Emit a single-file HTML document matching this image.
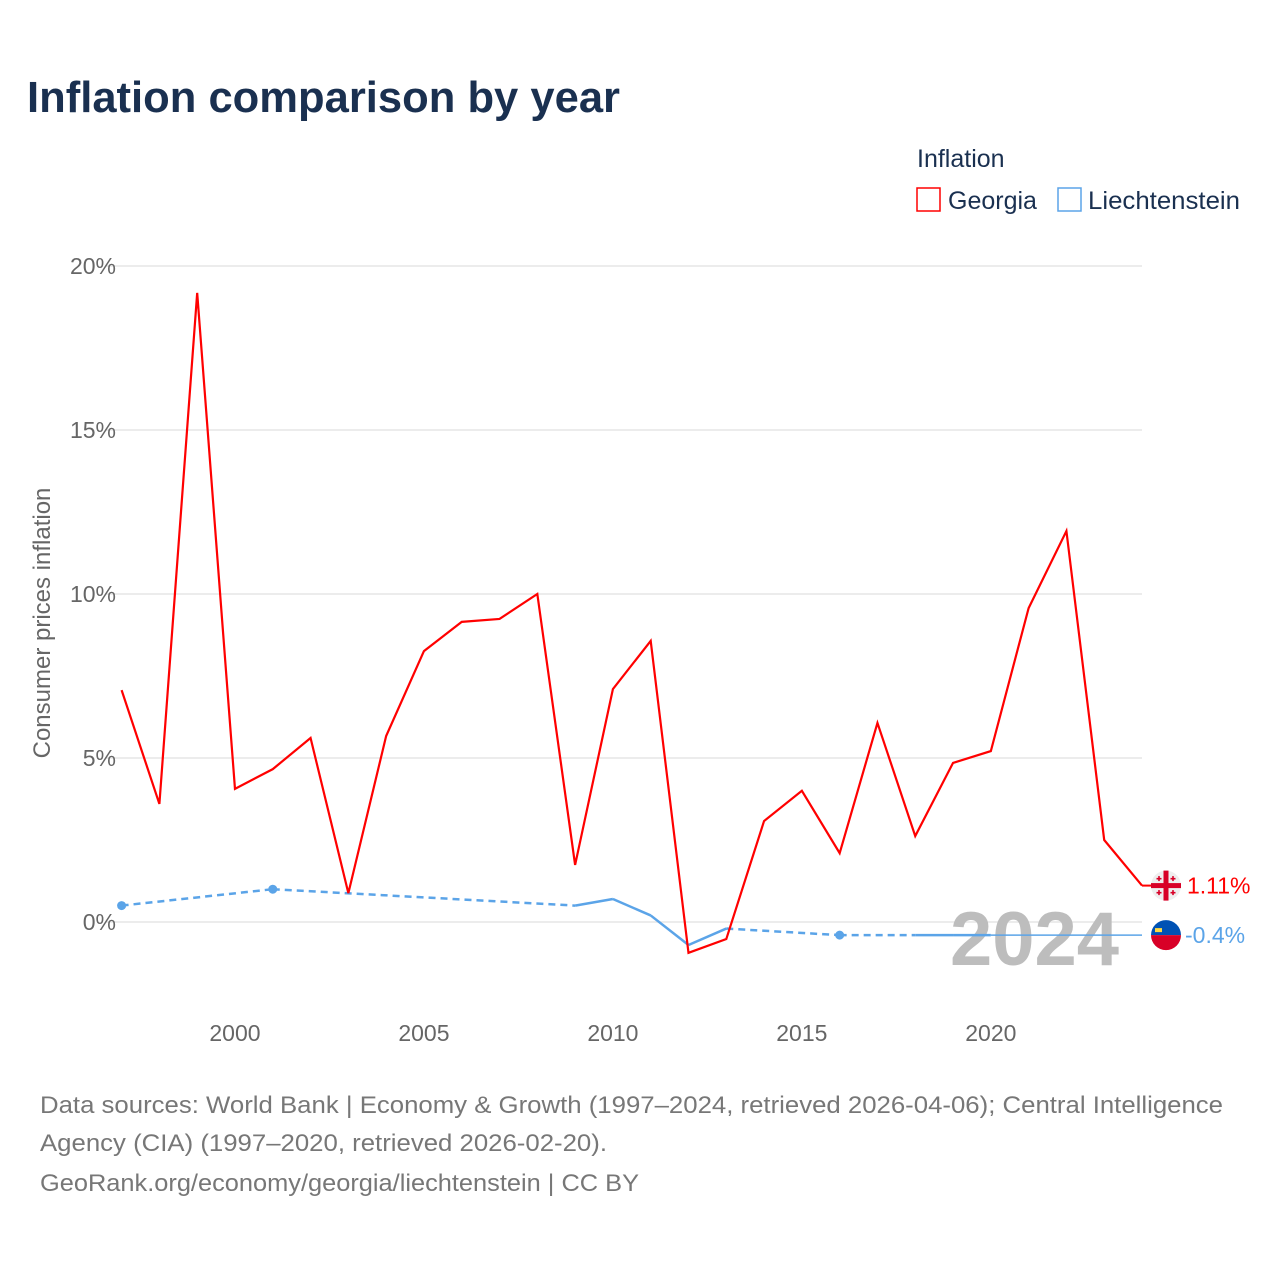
<!DOCTYPE html>
<html><head><meta charset="utf-8"><style>
body{margin:0;background:#fff;width:1280px;height:1280px;overflow:hidden;font-family:"Liberation Sans",sans-serif}
</style></head><body>
<svg width="1280" height="1280" xmlns="http://www.w3.org/2000/svg">
<rect width="1280" height="1280" fill="#fff"/>
<text x="27" y="112" font-size="44" font-weight="bold" fill="#1a3050" textLength="593" lengthAdjust="spacingAndGlyphs">Inflation comparison by year</text>
<text x="917" y="167" font-size="25" fill="#1a3050">Inflation</text>
<g><rect x="917" y="188" width="23" height="23" fill="none" stroke="#f00" stroke-width="1.5"/><text x="948" y="209" font-size="25" fill="#1a3050">Georgia</text></g>
<g><rect x="1058" y="188" width="23" height="23" fill="none" stroke="#5ba4e8" stroke-width="1.5"/><text x="1088" y="209" font-size="25" fill="#1a3050" textLength="152" lengthAdjust="spacingAndGlyphs">Liechtenstein</text></g>
<g id="grid"></g>
<text x="950" y="965" font-size="76" font-weight="bold" fill="#bdbdbd">2024</text>
<g id="plot"></g>
<text transform="translate(50,623) rotate(-90)" text-anchor="middle" font-size="24" fill="#666">Consumer prices inflation</text>
<text x="40" y="1113" font-size="24" fill="#777" textLength="1183" lengthAdjust="spacingAndGlyphs">Data sources: World Bank | Economy &amp; Growth (1997–2024, retrieved 2026-04-06); Central Intelligence</text>
<text x="40" y="1151" font-size="24" fill="#777" textLength="567" lengthAdjust="spacingAndGlyphs">Agency (CIA) (1997–2020, retrieved 2026-02-20).</text>
<text x="40" y="1191" font-size="24" fill="#777" textLength="599" lengthAdjust="spacingAndGlyphs">GeoRank.org/economy/georgia/liechtenstein | CC BY</text>
</svg>
<script>
const geoYears=[1997,1998,1999,2000,2001,2002,2003,2004,2005,2006,2007,2008,2009,2010,2011,2012,2013,2014,2015,2016,2017,2018,2019,2020,2021,2022,2023,2024];
const geoValues=[7.07,3.6,19.18,4.06,4.66,5.61,0.88,5.67,8.26,9.15,9.24,10.0,1.74,7.1,8.57,-0.94,-0.52,3.08,4.0,2.1,6.07,2.62,4.85,5.21,9.57,11.92,2.5,1.11];
const lieYears=[1997,2001,2009,2010,2011,2012,2013,2016,2018,2019,2020];
const lieValues=[0.5,1.0,0.5,0.7,0.2,-0.7,-0.2,-0.4,-0.4,-0.4,-0.4];
const yTicks=[0,5,10,15,20];
const xTicks=[2000,2005,2010,2015,2020];
const NS="http://www.w3.org/2000/svg";
const X=y=>121.6+(y-1997)*(1142-121.6)/27;
const Y=v=>922-v*32.8;
const grid=document.getElementById('grid'),plot=document.getElementById('plot');
function mk(tag,attrs,parent){const e=document.createElementNS(NS,tag);for(const k in attrs)e.setAttribute(k,attrs[k]);parent.appendChild(e);return e;}
yTicks.forEach(t=>{
 const l=mk('line',{x1:105,x2:1142,y1:Y(t),y2:Y(t),stroke:'#e6e6e6','stroke-width':1.5},grid);
 
 
 const tx=mk('text',{x:116,y:Y(t)+8,'text-anchor':'end','font-size':23,fill:'#666'},grid);
 tx.textContent=t+'%';
 
 
});
xTicks.forEach(t=>{
 const tx=mk('text',{x:X(t),y:1041,'text-anchor':'middle','font-size':23,fill:'#666'},grid);
 tx.textContent=t;
 
 
});
const lastL=lieYears.length-1;
const tail=mk('line',{x1:X(lieYears[lastL]),y1:Y(lieValues[lastL]),x2:X(2024),y2:Y(lieValues[lastL]),stroke:'#5ba4e8','stroke-width':1.5},plot);


for(let i=0;i<lastL;i++){
 const gap=lieYears[i+1]-lieYears[i]>1;
 const s=mk('line',{x1:X(lieYears[i]),y1:Y(lieValues[i]),x2:X(lieYears[i+1]),y2:Y(lieValues[i+1]),stroke:'#5ba4e8','stroke-width':2.5,'stroke-dasharray':gap?'7 5':'none'},plot);
 
 
}
lieYears.forEach((y,i)=>{
 const solidPrev=i>0&&y-lieYears[i-1]===1, solidNext=i<lastL&&lieYears[i+1]-y===1;
 if(!solidPrev&&!solidNext){
  const c=mk('circle',{cx:X(y),cy:Y(lieValues[i]),r:4.5,fill:'#5ba4e8'},plot);
  
  
 }
});
const gp=mk('polyline',{points:geoYears.map((y,i)=>X(y)+','+Y(geoValues[i])).join(' '),fill:'none',stroke:'#f00','stroke-width':2.2,'stroke-linejoin':'miter'},plot);


const gx=X(2024),gy=Y(geoValues[geoValues.length-1]);
const gl=mk('line',{x1:gx,y1:gy,x2:gx+14,y2:gy,stroke:'#f00','stroke-width':2},plot);


const gf=mk('g',{},plot);


mk('circle',{cx:1166,cy:gy,r:15,fill:'#eee'},gf);
mk('rect',{x:1151,y:gy-2.5,width:30,height:5,fill:'#d80027'},gf);
mk('rect',{x:1163.5,y:gy-15,width:5,height:30,fill:'#d80027'},gf);
[[-7,-7],[7,-7],[-7,7],[7,7]].forEach(([dx,dy])=>{mk('rect',{x:1166+dx-2.5,y:gy+dy-0.7,width:5,height:1.6,fill:'#d80027'},gf);mk('rect',{x:1166+dx-0.8,y:gy+dy-2.5,width:1.6,height:5,fill:'#d80027'},gf);});
const gt=mk('text',{x:1187,y:gy+8,'font-size':23,fill:'#f00'},plot);
gt.textContent='1.11%';


const ly=Y(lieValues[lastL]);
const lf=mk('g',{},plot);


mk('path',{d:`M1151 ${ly} A15 15 0 0 1 1181 ${ly} Z`,fill:'#0052b4'},lf);
mk('path',{d:`M1151 ${ly} A15 15 0 0 0 1181 ${ly} Z`,fill:'#d80027'},lf);
mk('rect',{x:1155,y:ly-7,width:7,height:4,fill:'#ffda44'},lf);
const lt=mk('text',{x:1185,y:ly+8,'font-size':23,fill:'#5ba4e8'},plot);
lt.textContent='-0.4%';


</script>
</body></html>
